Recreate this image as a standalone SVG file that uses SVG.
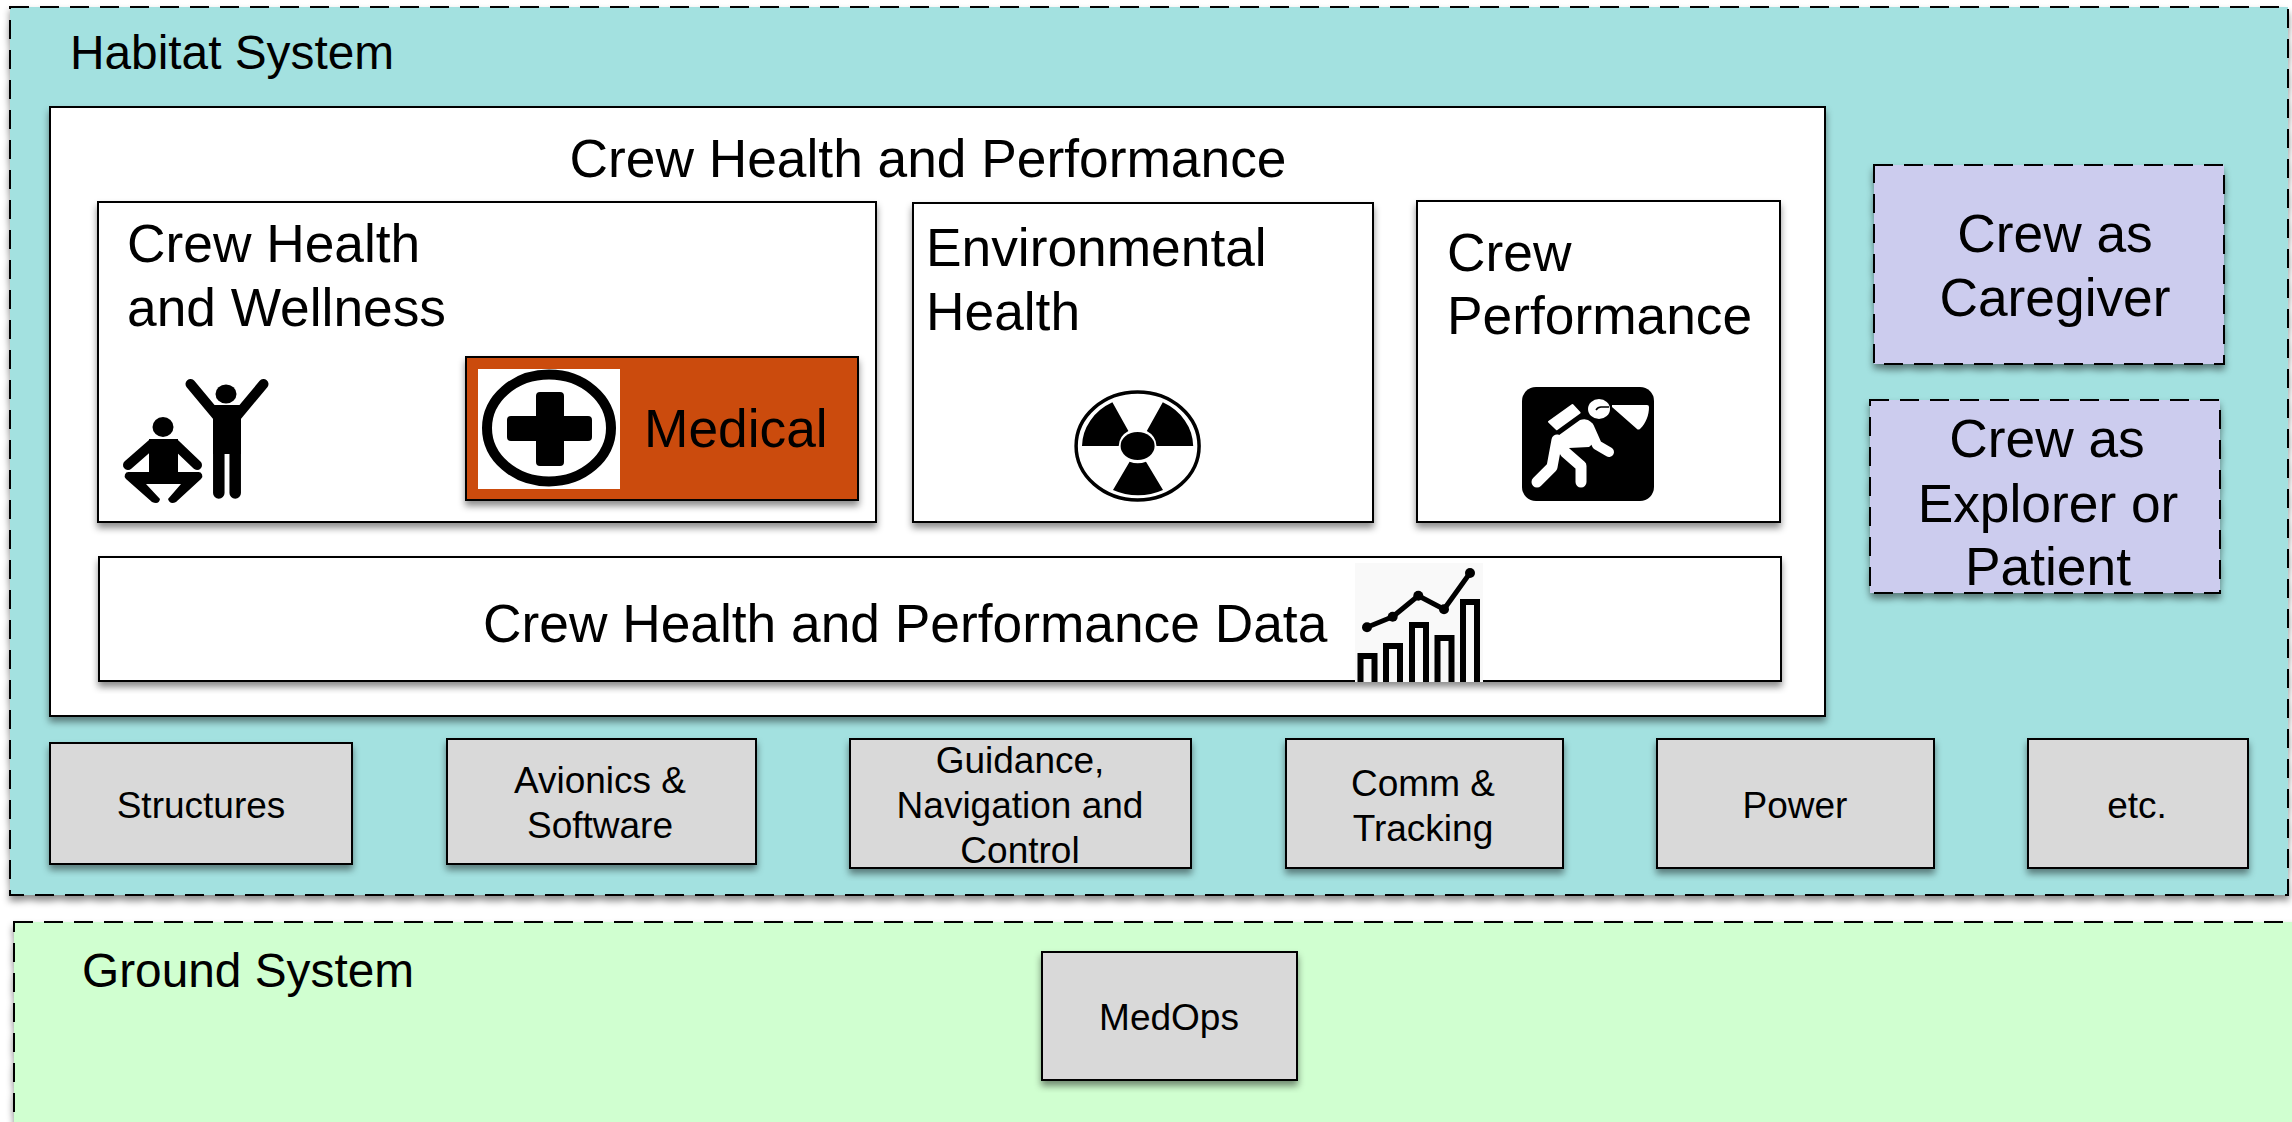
<svg xmlns="http://www.w3.org/2000/svg" width="2292" height="1122" viewBox="0 0 2292 1122">
<defs>
<filter id="sh" x="-5%" y="-5%" width="110%" height="115%"><feDropShadow dx="0" dy="5" stdDeviation="3.5" flood-color="#000" flood-opacity="0.45"/></filter>
</defs>
<style>
text{font-family:"Liberation Sans",Arial,sans-serif;fill:#000}
.t48{font-size:47.8px}.t53{font-size:53.3px}.t37{font-size:37px}
.m{text-anchor:middle}
.box{stroke:#000;stroke-width:2;filter:url(#sh)}
.dash{stroke-dasharray:19 11}
.w{fill:#fff}.g{fill:#d9d9d9}
.k{fill:#000}
.ws{fill:none;stroke:#fff;stroke-linecap:round;stroke-linejoin:round}
.ks{fill:none;stroke:#000;stroke-linecap:round;stroke-linejoin:round}
</style>
<rect width="2292" height="1122" fill="#fff"/>
<g id="habitat-system">
<rect class="box dash" x="10" y="7" width="2278" height="888" fill="#a3e1e0"/>
<text class="t48" x="70" y="69">Habitat System</text>
</g>
<g id="ground-system">
<rect class="box dash" x="14" y="922" width="2290" height="220" fill="#d0ffd0"/>
<text class="t48" x="82" y="987">Ground System</text>
</g>
<g id="crew-health-performance">
<rect class="box w" x="50" y="107" width="1775" height="609"/>
<text class="t53 m" x="928" y="177">Crew Health and Performance</text>
</g>
<g id="crew-health-wellness">
<rect class="box w" x="98" y="202" width="778" height="320"/>
<text class="t53" x="127" y="262">Crew Health</text>
<text class="t53" x="127" y="326">and Wellness</text>
<g id="wellness-icon">
<ellipse class="k" cx="226" cy="394" rx="10.5" ry="9.5"/>
<path class="ks" stroke-width="10" d="M190.500 384L218 417M263.500 384L236 417"/>
<path class="k" d="M213 405h28v49h-28z"/>
<path class="ks" stroke-width="11.500" d="M218.800 445V493M235.200 445V493"/>
<ellipse class="k" cx="163" cy="427" rx="10.5" ry="10"/>
<path class="ks" stroke-width="10" d="M152 444L128 465M175 444L197 465"/>
<rect class="k" x="149" y="439" width="29" height="35"/>
<path class="k" d="M129 472H198a4 4 0 0 1 3 7L176 502q-6 3-8-3L181 484H146L160 499q-1 6-8 3L126 479a4 4 0 0 1 3-7z"/>
</g>
</g>
<g id="medical">
<rect class="box" x="466" y="357" width="392" height="143" fill="#cb4b0f"/>
<rect class="w" x="478" y="369" width="142" height="120"/>
<ellipse cx="549" cy="428" rx="62" ry="53.5" fill="#fff" stroke="#000" stroke-width="10"/>
<path class="k" d="M536 396a4 4 0 0 1 4-4h20a4 4 0 0 1 4 4v20h24a4 4 0 0 1 4 4v17a4 4 0 0 1-4 4h-24v21a4 4 0 0 1-4 4h-20a4 4 0 0 1-4-4v-21h-25a4 4 0 0 1-4-4v-17a4 4 0 0 1 4-4h25z"/>
<text class="t53" x="644" y="447">Medical</text>
</g>
<g id="environmental-health">
<rect class="box w" x="913" y="203" width="460" height="319"/>
<text class="t53" x="926" y="266">Environmental</text>
<text class="t53" x="926" y="330">Health</text>
<g id="radiation-icon">
<ellipse cx="1137.6" cy="446" rx="61.5" ry="54" fill="#fff" stroke="#000" stroke-width="3.5"/>
<path class="k" d="M1082 446h36.700a20 18 0 0 1 9.700-15l-16-28.700a56 50 0 0 0-30.400 43.700z"/>
<path class="k" d="M1193.200 446h-36.700a20 18 0 0 0-9.700-15l16-28.700a56 50 0 0 1 30.400 43.700z"/>
<path class="k" d="M1129.600 461.700a20 18 0 0 0 16.400 0l17 28.300a56 50 0 0 1-50 0z"/>
<ellipse class="k" cx="1137.6" cy="446" rx="17" ry="14"/>
</g>
</g>
<g id="crew-performance">
<rect class="box w" x="1417" y="201" width="363" height="321"/>
<text class="t53" x="1447" y="271">Crew</text>
<text class="t53" x="1447" y="334">Performance</text>
<g id="miner-icon">
<rect class="k" x="1522" y="387" width="132" height="114" rx="14"/>
<ellipse cx="1599" cy="409" rx="11" ry="10" fill="#fff"/>
<path d="M1596 410q2-3 5-3h8" fill="none" stroke="#000" stroke-width="1.5"/>
<path d="M1612 405h35q2 0 2 2c0 8-3 16-9 22q-2 1-3 0l-25-22z" fill="#fff"/>
<path d="M1549 421.700l23.400-16.700 7.200 7.700-22.800 16.600z" fill="#fff" stroke="#fff" stroke-linejoin="round" stroke-width="2"/>
<path d="M1555 438l25-18q7-2 11 2l6 18-8 7-20 1-14 8-3-2z" fill="#fff"/>
<path class="ws" stroke-width="10" d="M1589 427l8 18 12 7"/>
<path class="ws" stroke-width="11" d="M1565 452l16 14v16"/>
<path class="ws" stroke-width="11" d="M1557 440l-5 27-15 15"/>
</g>
</g>
<g id="crew-health-performance-data">
<rect class="box w" x="99" y="557" width="1682" height="124"/>
<text class="t53" x="483" y="642">Crew Health and Performance Data</text>
<g id="chart-icon">
<rect x="1355" y="563" width="128" height="119" fill="#f9f9f9"/>
<path fill="none" stroke="#000" stroke-width="6" d="M1360.500 682v-26h14v26M1386 682v-36h14v36M1412 682v-57h14v57M1437.500 682v-44h14v44M1463 682v-80h14v80"/>
<path class="ks" stroke-width="5" d="M1367 627.300l25.700-10.600 25.600-21 25.700 13.600 26-36.300"/>
<g class="k"><circle cx="1367" cy="627.3" r="5"/><circle cx="1392.7" cy="616.7" r="5"/><circle cx="1418.3" cy="595.7" r="5"/><circle cx="1444" cy="609.3" r="5"/><circle cx="1470" cy="573" r="5"/></g>
</g>
</g>
<g id="crew-as-caregiver">
<rect class="box dash" x="1874" y="165" width="350" height="199" fill="#ccccee"/>
<text class="t53 m" x="2055" y="252">Crew as</text>
<text class="t53 m" x="2055" y="316">Caregiver</text>
</g>
<g id="crew-as-explorer-patient">
<rect class="box dash" x="1870" y="400" width="350" height="193" fill="#ccccee"/>
<text class="t53 m" x="2047" y="457">Crew as</text>
<text class="t53 m" x="2048" y="522">Explorer or</text>
<text class="t53 m" x="2048" y="585">Patient</text>
</g>
<g id="structures"><rect class="box g" x="50" y="743" width="302" height="121"/><text class="t37 m" x="201" y="818">Structures</text></g>
<g id="avionics"><rect class="box g" x="447" y="739" width="309" height="125"/><text class="t37 m" x="600" y="793">Avionics &amp;</text><text class="t37 m" x="600" y="838">Software</text></g>
<g id="gnc"><rect class="box g" x="850" y="739" width="341" height="129"/><text class="t37 m" x="1020" y="773">Guidance,</text><text class="t37 m" x="1020" y="818">Navigation and</text><text class="t37 m" x="1020" y="863">Control</text></g>
<g id="comm"><rect class="box g" x="1286" y="739" width="277" height="129"/><text class="t37 m" x="1423" y="796">Comm &amp;</text><text class="t37 m" x="1423" y="841">Tracking</text></g>
<g id="power"><rect class="box g" x="1657" y="739" width="277" height="129"/><text class="t37 m" x="1795" y="818">Power</text></g>
<g id="etc"><rect class="box g" x="2028" y="739" width="220" height="129"/><text class="t37 m" x="2137" y="818">etc.</text></g>
<g id="medops"><rect class="box g" x="1042" y="952" width="255" height="128"/><text class="t37 m" x="1169" y="1030">MedOps</text></g>
<g id="connectors"/>
</svg>
